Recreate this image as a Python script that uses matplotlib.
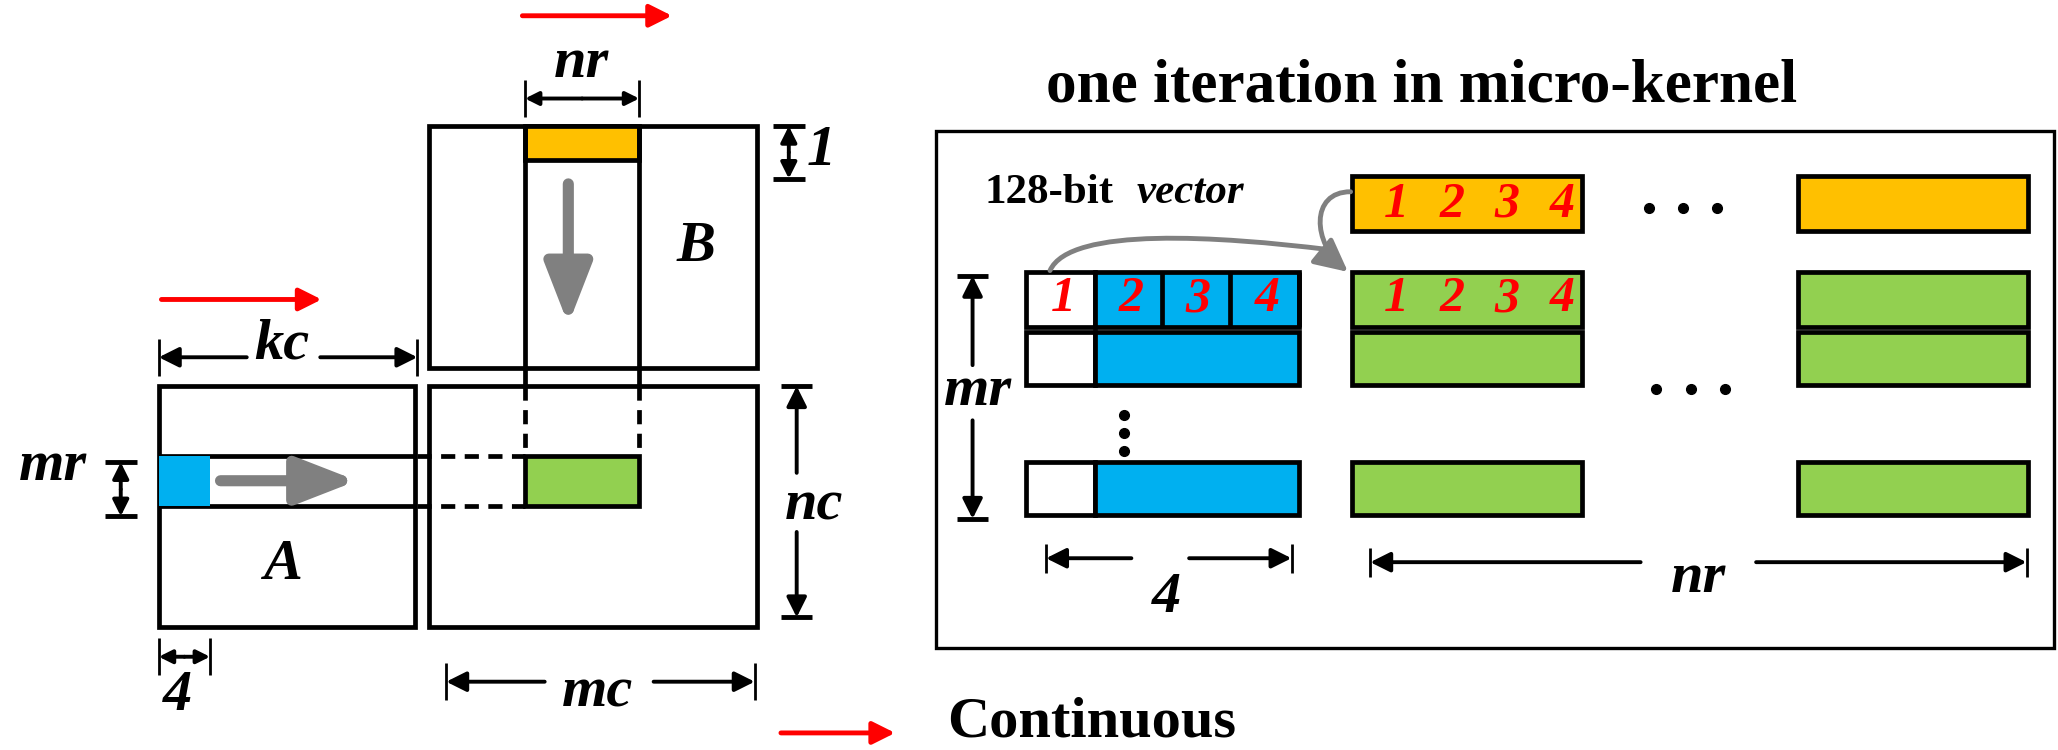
"""
GEMM 分块示意图：A/B/C 打包与 micro-kernel 单次迭代
"""
import matplotlib
matplotlib.use('Agg')
import matplotlib.pyplot as plt
import matplotlib.patches as mpatches
from matplotlib.path import Path

# 文本与标签
title_text = 'one iteration in micro-kernel'
legend_text = 'Continuous'
vector_label = ['128-bit', 'vector']
lane_numbers = ['1', '2', '3', '4']
dim_labels = {'nr': 'nr', 'kc': 'kc', 'mr': 'mr', 'nc': 'nc', 'mc': 'mc', 'one': '1', 'four': '4'}

# 颜色
ORANGE = '#FFC000'
BLUE = '#00B0F0'
GREEN = '#92D050'
GRAY = '#808080'
RED = '#FF0000'

plt.rcParams['font.family'] = ['Liberation Serif', 'DejaVu Serif']

W, H = 1568, 571
fig = plt.figure(figsize=(20.58, 7.50), dpi=100)
ax = fig.add_axes([0, 0, 1, 1])
ax.set_xlim(0, W)
ax.set_ylim(H, 0)
ax.axis('off')

LW = 3.4


def rect(x0, y0, x1, y1, fc='none', lw=LW, z=2):
    ax.add_patch(mpatches.Rectangle((x0, y0), x1 - x0, y1 - y0, facecolor=fc,
                                    edgecolor='black', lw=lw, zorder=z))


def line(x0, y0, x1, y1, ls='-', lw=LW, color='black'):
    ax.plot([x0, x1], [y0, y1], ls=ls, lw=lw, color=color, zorder=3,
            solid_capstyle='butt', dashes=(3, 2) if ls == '--' else (None, None))


def arrow(x0, y0, x1, y1, color='black', lw=2.8, ms=30):
    ax.annotate('', xy=(x1, y1), xytext=(x0, y0),
                arrowprops=dict(arrowstyle='-|>', color=color, lw=lw,
                                mutation_scale=ms, shrinkA=0, shrinkB=0))


def hdim(x0, x1, y, gap=None, tick=14):
    if gap:
        arrow(gap[0], y, x0, y)
        arrow(gap[1], y, x1, y)
    else:
        mid = (x0 + x1) / 2
        arrow(mid, y, x0, y, ms=20)
        arrow(mid, y, x1, y, ms=20)
    line(x0, y - tick, x0, y + tick, lw=2)
    line(x1, y - tick, x1, y + tick, lw=2)


def vdim(y0, y1, x, gap=None, tick=12):
    if gap:
        arrow(x, gap[0], x, y0)
        arrow(x, gap[1], x, y1)
    else:
        mid = (y0 + y1) / 2
        arrow(x, mid, x, y0, ms=24)
        arrow(x, mid, x, y1, ms=24)
    line(x - tick, y0, x + tick, y0, lw=3.5)
    line(x - tick, y1, x + tick, y1, lw=3.5)


def label(x, y, s, size=42, italic=True, color='black', ha='center'):
    ax.text(x, y, s, fontsize=size, fontweight='bold',
            fontstyle='italic' if italic else 'normal', color=color,
            ha=ha, va='center', zorder=5)


def gray_arrow(x0, y0, x1, y1):
    ax.annotate('', xy=(x1, y1), xytext=(x0, y0),
                arrowprops=dict(arrowstyle='-|>,head_length=0.9,head_width=0.35',
                                color=GRAY, lw=8, mutation_scale=40,
                                shrinkA=0, shrinkB=0, capstyle='round'))


# ---- 左侧：B 块 ----
arrow(398, 12, 512, 12, color=RED, lw=3.5, ms=34)
rect(327, 96, 577, 280)
ax.add_patch(mpatches.Rectangle((400, 96), 87, 26, facecolor=ORANGE,
                                edgecolor='black', lw=LW, zorder=3))
line(400, 96, 400, 294)
line(487, 96, 487, 294)
gray_arrow(433, 140, 433, 247)
label(530, 188, 'B')
hdim(400, 487, 75)
label(443, 48, dim_labels['nr'])
vdim(96, 136, 601)
label(626, 115, dim_labels['one'])

# ---- A 块 ----
arrow(123, 228, 245, 228, color=RED, lw=3.5, ms=34)
rect(121, 294, 316, 477)
line(121, 347, 316, 347)
line(121, 385, 316, 385)
ax.add_patch(mpatches.Rectangle((121, 347), 39, 38, facecolor=BLUE,
                                edgecolor='none', zorder=3))
gray_arrow(168, 366, 272, 366)
label(215, 430, 'A')
hdim(121, 318, 272, gap=(188, 244))
label(215, 262, dim_labels['kc'])
vdim(352, 393, 92)
label(40, 355, dim_labels['mr'])
hdim(121, 160, 500)
label(135, 530, dim_labels['four'])

# ---- C 块 ----
rect(327, 294, 577, 477)
line(400, 294, 400, 347, ls='--')
line(487, 294, 487, 347, ls='--')
line(318, 347, 400, 347, ls='--')
line(318, 385, 400, 385, ls='--')
rect(400, 347, 487, 385, fc=GREEN, z=3)
vdim(294, 470, 607, gap=(360, 405))
label(620, 385, dim_labels['nc'])
hdim(340, 575, 519, gap=(415, 498))
label(455, 527, dim_labels['mc'])

# 图例
arrow(595, 558, 682, 558, color=RED, lw=3.5, ms=34)
ax.text(722, 550, legend_text, fontsize=42, fontweight='bold', ha='left', va='center')

# ---- 右侧：micro-kernel ----
ax.text(1083, 66, title_text, fontsize=44, fontweight='bold', ha='center', va='center')
ax.add_patch(mpatches.Rectangle((713, 100), 852, 393, facecolor='none',
                                edgecolor='black', lw=2.4))

ax.text(750, 147, vector_label[0], fontsize=31, fontweight='bold', ha='left', va='center')
ax.text(866, 147, vector_label[1], fontsize=31, fontweight='bold', fontstyle='italic',
        ha='left', va='center')

bar_w = 175
col_x = [1030, 1370]
row_y = [(134, 176), (207, 249), (253, 293), (352, 392)]
for cx in col_x:
    rect(cx, 134, cx + bar_w, 176, fc=ORANGE)
    for y0, y1 in row_y[1:]:
        rect(cx, y0, cx + bar_w, y1, fc=GREEN)

cell_x = [782, 834, 885, 937, 990]
for y0, y1 in row_y[1:]:
    rect(782, y0, 834, y1, fc='white')
    rect(834, y0, 990, y1, fc=BLUE)
for i in range(1, 4):
    line(cell_x[i + 1], row_y[1][0], cell_x[i + 1], row_y[1][1])

for i, n in enumerate(lane_numbers):
    label((cell_x[i] + cell_x[i + 1]) / 2 + 2, 228, n, size=36, color=RED)
    label(1064 + i * 42, 156, n, size=36, color=RED)
    label(1064 + i * 42, 228, n, size=36, color=RED)

# 省略号
for x in (1256, 1282, 1308):
    ax.plot(x, 158, 'o', color='black', ms=7)
for x in (1262, 1288, 1314):
    ax.plot(x, 296, 'o', color='black', ms=7)
for y in (316, 330, 343):
    ax.plot(856, y, 'o', color='black', ms=7)

# 灰色弯曲箭头
p1 = Path([(1029, 146), (998, 146), (1000, 185), (1027, 207)],
          [Path.MOVETO, Path.CURVE4, Path.CURVE4, Path.CURVE4])
ax.add_patch(mpatches.FancyArrowPatch(path=p1, arrowstyle='-|>,head_length=0.8,head_width=0.4',
                                      color=GRAY, lw=3.5, mutation_scale=25, zorder=6))
p2 = Path([(800, 206), (815, 172), (930, 180), (1012, 190)],
          [Path.MOVETO, Path.CURVE4, Path.CURVE4, Path.CURVE4])
ax.add_patch(mpatches.FancyArrowPatch(path=p2, arrowstyle='-', color=GRAY, lw=3.5, zorder=6))

# 尺寸标注
vdim(210, 395, 741, gap=(278, 320))
label(745, 298, dim_labels['mr'])
hdim(797, 984, 425, gap=(862, 906), tick=11)
label(889, 455, dim_labels['four'])
hdim(1044, 1544, 428, gap=(1250, 1338), tick=11)
label(1294, 440, dim_labels['nr'])

fig.savefig('out.png', dpi=100)
